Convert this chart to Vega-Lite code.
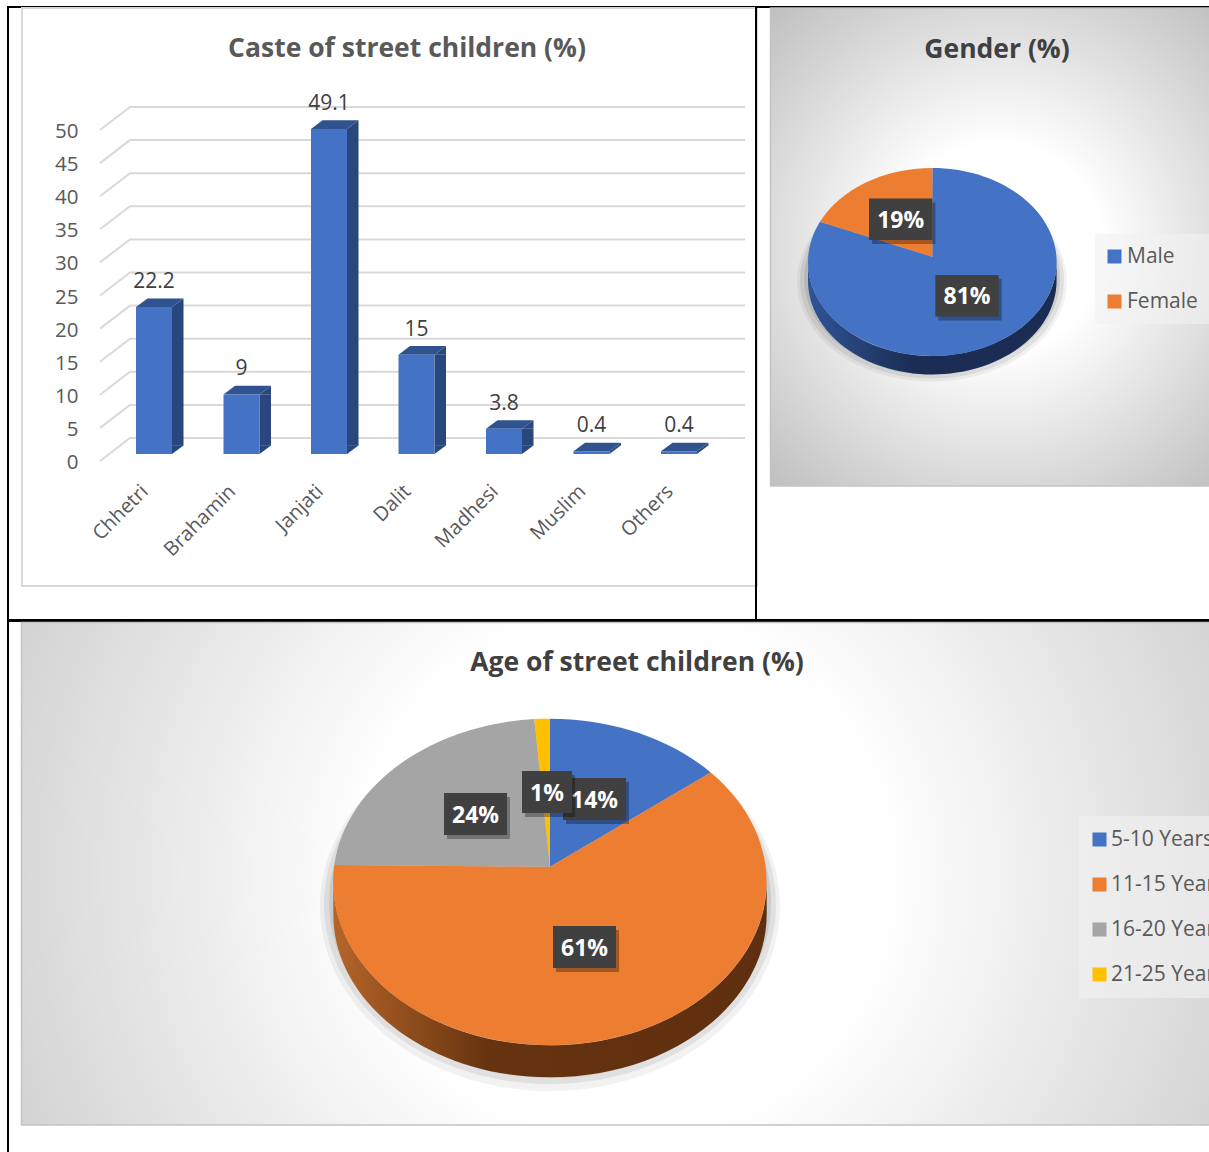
{
"$schema":"https://vega.github.io/schema/vega-lite/v6.json",
"background":"white",
"padding":{"left":7,"top":3,"right":0,"bottom":0},
"bounds":"full",
"spacing":-5,
"resolve":{"scale":{"color":"independent"}},
"config":{"font":"Open Sans","view":{"stroke":"black","strokeWidth":2},"legend":{"symbolStrokeWidth":0,"symbolOpacity":1,"labelColor":"#595959","labelFont":"Open Sans"}},
"vconcat":[
{"hconcat":[
{
"width":748,"height":613,
"title":{"text":"Caste of street children (%)","anchor":"middle","frame":"group","dx":25,"offset":-71,"baseline":"middle","fontSize":26.5,"fontWeight":700,"font":"Open Sans","color":"#595959"},
"data":{"values":[
{"category":"Chhetri","value":22.2},
{"category":"Brahamin","value":9},
{"category":"Janjati","value":49.1},
{"category":"Dalit","value":15},
{"category":"Madhesi","value":3.8},
{"category":"Muslim","value":0.4},
{"category":"Others","value":0.4}]},
"encoding":{
"x":{"field":"category","type":"nominal","sort":null,"title":null,"scale":{"range":[102.25,714.75],"paddingInner":0.59,"paddingOuter":0.295},
"axis":{"zindex":1,"labelAngle":-45,"labelAlign":"right","labelBaseline":"middle","labelFontSize":20,"labelColor":"#595959","labelFont":"Open Sans","domain":false,"ticks":false,"grid":false,"offset":-132,"labelPadding":0,"labelOffset":-9}},
"y":{"field":"value","type":"quantitative","title":null,"scale":{"domain":[0,50],"range":[447,116],"nice":false},
"axis":{"zindex":1,"values":[0,5,10,15,20,25,30,35,40,45,50],"labelFontSize":20.5,"labelColor":"#595959","labelFont":"Open Sans","domain":false,"ticks":false,"grid":false,"offset":-70,"labelPadding":0,"labelOffset":8.5}}
},
"layer":[
{"data":{"values":[{}]},"mark":{"type":"point","filled":true,"opacity":1,"size":4,"shape":"M-360,-305.5H375V272.5H-360Z","fill":"white","stroke":"#d9d9d9","strokeWidth":2},"encoding":{"x":null,"y":null}},
{"data":{"values":[{"tick":0},{"tick":5},{"tick":10},{"tick":15},{"tick":20},{"tick":25},{"tick":30},{"tick":35},{"tick":40},{"tick":45},{"tick":50}]},
"mark":{"type":"point","filled":false,"opacity":1,"size":4,"shape":"M-282,7L-252,-16L363,-16","stroke":"#d9d9d9","strokeWidth":2},
"encoding":{"x":null,"y":{"field":"tick","type":"quantitative"}}},
{"transform":[{"filter":"datum.value>1.3"}],"mark":{"type":"bar","width":11.5,"xOffset":23.75,"color":"#29477d"},"encoding":{"y2":{"datum":1.25}}},
{"transform":[{"filter":"datum.value>1.3"}],"mark":{"type":"point","filled":true,"opacity":1,"size":4,"shape":"M18,0L29.5,-8.6L29.5,0Z","fill":"#29477d","strokeWidth":0}},
{"transform":[{"filter":"datum.value>1.3"}],"mark":{"type":"point","filled":true,"opacity":1,"size":4,"shape":"M18,0L18,-8.6L29.5,-8.6Z","fill":"#29477d","strokeWidth":0},"encoding":{"y":{"datum":0}}},
{"transform":[{"filter":"datum.value<=1.3"}],"mark":{"type":"point","filled":true,"opacity":1,"size":4,"shape":"M18,0L29.5,-8.6L29.5,-6L18,2.6Z","fill":"#29477d","strokeWidth":0}},
{"mark":{"type":"point","filled":true,"opacity":1,"size":4,"shape":"M-18,0L-6.5,-8.6L29.5,-8.6L18,0Z","fill":"#30538f","strokeWidth":0}},
{"mark":{"type":"bar","width":36,"color":"#4472c4"}},
{"mark":{"type":"text","dy":-25,"fontSize":21,"font":"Open Sans","color":"#404040","baseline":"middle"},"encoding":{"text":{"field":"value","type":"quantitative"}}}
]
},
{
"width":470,"height":613,
"title":{"text":"Gender (%)","anchor":"middle","frame":"group","dx":6,"offset":-71,"baseline":"middle","fontSize":26.5,"fontWeight":700,"font":"Open Sans","color":"#404040"},
"data":{"values":[{"gender":"Male","share":0.81},{"gender":"Female","share":0.19}]},
"layer":[
{"data":{"values":[{}]},"mark":{"type":"point","filled":true,"opacity":1,"size":4,"shape":"M-220.5,-305.5H235V172.5H-220.5Z","stroke":"#c4c4c4","strokeWidth":1.5,"fill":{"gradient":"radial","x1":0.5,"y1":0.5,"r1":0,"x2":0.5,"y2":0.5,"r2":0.72,"stops":[{"offset":0,"color":"#ffffff"},{"offset":0.3,"color":"#ffffff"},{"offset":1,"color":"#bbbbbb"}]}}},
{"data":{"values":[{}]},"mark":{"type":"point","filled":true,"opacity":0.05,"size":4,"shape":"M-194,-32A135,100 0 1 1 76,-32A135,100 0 1 1 -194,-32Z","fill":"#000000","strokeWidth":0}},
{"data":{"values":[{}]},"mark":{"type":"point","filled":true,"opacity":0.07,"size":4,"shape":"M-191,-33A132,98 0 1 1 73,-33A132,98 0 1 1 -191,-33Z","fill":"#000000","strokeWidth":0}},
{"data":{"values":[{}]},"mark":{"type":"point","filled":true,"opacity":0.09,"size":4,"shape":"M-187,-35A128,96 0 1 1 69,-35A128,96 0 1 1 -187,-35Z","fill":"#000000","strokeWidth":0}},
{"data":{"values":[{}]},"mark":{"type":"point","filled":true,"opacity":1,"size":4,"shape":"M-183,-51.5A124.3,94 0 0 0 65.6,-51.5L65.6,-33A124.3,94 0 0 1 -183,-33Z","strokeWidth":0,"fill":{"gradient":"linear","x1":0,"y1":0,"x2":1,"y2":0,"stops":[{"offset":0,"color":"#2f5597"},{"offset":0.42,"color":"#1b2d55"},{"offset":1,"color":"#1a2c52"}]}}},
{"encoding":{"color":{"field":"gender","type":"nominal","sort":["Male","Female"],"title":null,"scale":{"domain":["Male","Female"],"range":["#4472c4","#ed7d31"]},
"legend":{"symbolType":"square","orient":"none","legendX":339,"legendY":227,"padding":12,"symbolSize":196,"symbolOffset":-3,"labelOffset":2,"labelFontSize":21,"rowPadding":23,"fillColor":"rgba(242,242,242,0.6)"}}},
"layer":[
{"transform":[{"filter":"datum.gender==='Male'"}],"mark":{"type":"point","filled":true,"opacity":1,"size":4,"strokeWidth":0,"shape":"M-58.7,-56.8L-171,-91.8A124.3,94 0 1 0 -58.7,-145.5Z"}},
{"transform":[{"filter":"datum.gender==='Female'"}],"mark":{"type":"point","filled":true,"opacity":1,"size":4,"strokeWidth":0,"shape":"M-58.7,-56.8L-171,-91.8A124.3,94 0 0 1 -58.7,-145.5Z"}}
]},
{"mark":{"type":"point","filled":true,"opacity":0.3,"size":4,"shape":"M-31.7,-20.8H31.7V20.8H-31.7Z","fill":"#000000","strokeWidth":0,"xOffset":3,"yOffset":4},
"encoding":{"x":{"field":"share","type":"quantitative","axis":null,"scale":{"domain":[0.19,0.81],"range":[144.7,211],"zero":false,"nice":false}},"y":{"field":"share","type":"quantitative","axis":null,"scale":{"domain":[0.19,0.81],"range":[212.3,288.8],"zero":false,"nice":false}}}},
{"mark":{"type":"point","filled":true,"opacity":1,"size":4,"shape":"M-31.7,-20.8H31.7V20.8H-31.7Z","fill":"#404040","strokeWidth":0},
"encoding":{"x":{"field":"share","type":"quantitative"},"y":{"field":"share","type":"quantitative"}}},
{"mark":{"type":"text","fontSize":23,"fontWeight":700,"font":"Open Sans","color":"white","baseline":"middle","dy":1.5},
"encoding":{"x":{"field":"share","type":"quantitative"},"y":{"field":"share","type":"quantitative"},"text":{"field":"share","type":"quantitative","format":".0%"}}}
]
}
],"spacing":0,"bounds":"flush","resolve":{"scale":{"color":"independent"}}},
{
"width":1218,"height":540,
"title":{"text":"Age of street children (%)","anchor":"middle","frame":"group","dx":20,"offset":-70,"baseline":"middle","fontSize":26.5,"fontWeight":700,"font":"Open Sans","color":"#404040"},
"data":{"values":[{"age":"5-10 Years","share":0.14},{"age":"11-15 Years","share":0.61},{"age":"16-20 Years","share":0.24},{"age":"21-25 Years","share":0.01}]},
"layer":[
{"data":{"values":[{}]},"mark":{"type":"point","filled":true,"opacity":1,"size":4,"shape":"M-595.5,-268.5H609V234H-595.5Z","stroke":"#c4c4c4","strokeWidth":1.5,"fill":{"gradient":"radial","x1":0.5,"y1":0.5,"r1":0,"x2":0.5,"y2":0.5,"r2":0.72,"stops":[{"offset":0,"color":"#ffffff"},{"offset":0.3,"color":"#ffffff"},{"offset":1,"color":"#bbbbbb"}]}}},
{"data":{"values":[{}]},"mark":{"type":"point","filled":true,"opacity":0.05,"size":4,"shape":"M-297,15A230,185 0 1 1 163,15A230,185 0 1 1 -297,15Z","fill":"#000000","strokeWidth":0}},
{"data":{"values":[{}]},"mark":{"type":"point","filled":true,"opacity":0.07,"size":4,"shape":"M-293,13A226,180 0 1 1 159,13A226,180 0 1 1 -293,13Z","fill":"#000000","strokeWidth":0}},
{"data":{"values":[{}]},"mark":{"type":"point","filled":true,"opacity":0.09,"size":4,"shape":"M-288,11A221,176 0 1 1 154,11A221,176 0 1 1 -288,11Z","fill":"#000000","strokeWidth":0}},
{"data":{"values":[{}]},"mark":{"type":"point","filled":true,"opacity":1,"size":4,"shape":"M-283.7,-9A216.7,163.3 0 0 0 149.7,-9L149.7,23A216.7,163.3 0 0 1 -283.7,23Z","strokeWidth":0,"fill":{"gradient":"linear","x1":0,"y1":0,"x2":1,"y2":0,"stops":[{"offset":0,"color":"#b5652a"},{"offset":0.36,"color":"#66330f"},{"offset":1,"color":"#5f2f10"}]}}},
{"encoding":{"color":{"field":"age","type":"nominal","sort":["5-10 Years","11-15 Years","16-20 Years","21-25 Years"],"title":null,"scale":{"domain":["5-10 Years","11-15 Years","16-20 Years","21-25 Years"],"range":["#4472c4","#ed7d31","#a5a5a5","#ffc000"]},
"legend":{"symbolType":"square","orient":"none","legendX":1071,"legendY":195,"padding":13,"symbolSize":196,"symbolOffset":-3,"labelOffset":1,"labelFontSize":21,"rowPadding":23,"fillColor":"rgba(242,242,242,0.6)"}}},
"layer":[
{"transform":[{"filter":"datum.age==='5-10 Years'"}],"mark":{"type":"point","filled":true,"opacity":1,"size":4,"strokeWidth":0,"shape":"M-67,-24.3L-67,-172.3A216.7,163.3 0 0 1 93.7,-118.6Z"}},
{"transform":[{"filter":"datum.age==='11-15 Years'"}],"mark":{"type":"point","filled":true,"opacity":1,"size":4,"strokeWidth":0,"shape":"M-67,-24.3L93.7,-118.6A216.7,163.3 0 1 1 -282.7,-26Z"}},
{"transform":[{"filter":"datum.age==='16-20 Years'"}],"mark":{"type":"point","filled":true,"opacity":1,"size":4,"strokeWidth":0,"shape":"M-67,-24.3L-282.7,-26A216.7,163.3 0 0 1 -82.7,-171.9Z"}},
{"transform":[{"filter":"datum.age==='21-25 Years'"}],"mark":{"type":"point","filled":true,"opacity":1,"size":4,"strokeWidth":0,"shape":"M-67,-24.3L-82.7,-171.9A216.7,163.3 0 0 1 -67,-172.3Z"}}
]},
{"transform":[{"filter":"datum.share>0.01"}],"mark":{"type":"point","filled":true,"opacity":0.3,"size":4,"shape":"M-31.5,-21H31.5V21H-31.5Z","fill":"#000000","strokeWidth":0,"xOffset":3,"yOffset":4},
"encoding":{
"x":{"field":"share","type":"quantitative","axis":null,"scale":{"domain":[0.01,0.14,0.24,0.61],"range":[539,586.5,467.5,576.5],"zero":false,"nice":false}},
"y":{"field":"share","type":"quantitative","axis":null,"scale":{"domain":[0.01,0.14,0.24,0.61],"range":[171,178,193,326],"zero":false,"nice":false}}}},
{"transform":[{"filter":"datum.share>0.01"}],"mark":{"type":"point","filled":true,"opacity":1,"size":4,"shape":"M-31.5,-21H31.5V21H-31.5Z","fill":"#404040","strokeWidth":0},
"encoding":{"x":{"field":"share","type":"quantitative"},"y":{"field":"share","type":"quantitative"}}},
{"transform":[{"filter":"datum.share>0.01"}],"mark":{"type":"text","fontSize":23,"fontWeight":700,"font":"Open Sans","color":"white","baseline":"middle","dy":1.5},
"encoding":{"x":{"field":"share","type":"quantitative"},"y":{"field":"share","type":"quantitative"},"text":{"field":"share","type":"quantitative","format":".0%"}}},
{"transform":[{"filter":"datum.share===0.01"}],"mark":{"type":"point","filled":true,"opacity":0.3,"size":4,"shape":"M-25,-21H25V21H-25Z","fill":"#000000","strokeWidth":0,"xOffset":3,"yOffset":4},
"encoding":{"x":{"field":"share","type":"quantitative"},"y":{"field":"share","type":"quantitative"}}},
{"transform":[{"filter":"datum.share===0.01"}],"mark":{"type":"point","filled":true,"opacity":1,"size":4,"shape":"M-25,-21H25V21H-25Z","fill":"#404040","strokeWidth":0},
"encoding":{"x":{"field":"share","type":"quantitative"},"y":{"field":"share","type":"quantitative"}}},
{"transform":[{"filter":"datum.share===0.01"}],"mark":{"type":"text","fontSize":23,"fontWeight":700,"font":"Open Sans","color":"white","baseline":"middle","dy":1.5},
"encoding":{"x":{"field":"share","type":"quantitative"},"y":{"field":"share","type":"quantitative"},"text":{"field":"share","type":"quantitative","format":".0%"}}}
]
}
]
}
